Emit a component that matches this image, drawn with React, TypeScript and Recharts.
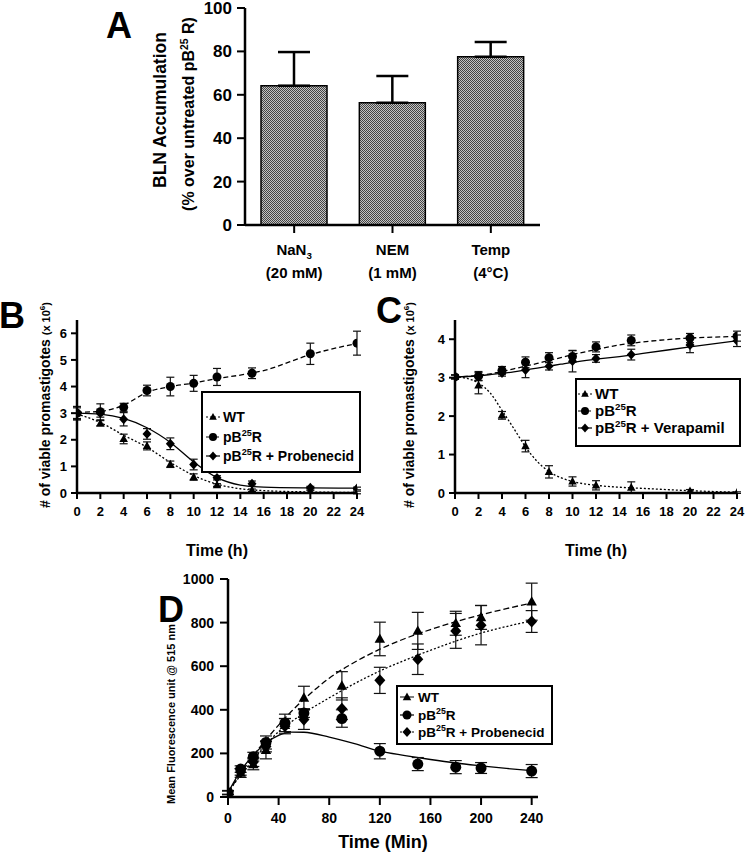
import React from 'react';
import { BarChart, Bar, XAxis, YAxis, ErrorBar, ComposedChart, Line, Scatter, Label } from 'recharts';

const FONT = '"Liberation Sans", Arial, Helvetica, sans-serif';

// ---------- Panel A ----------
const aCategories = ['NaN3', 'NEM', 'Temp'];
const aTickMain = ['NaN_3', 'NEM', 'Temp'];
const aTickSecond = ['(20 mM)', '(1 mM)', '(4°C)'];
const aValues = [64.2, 56.3, 77.5];
const aUpperErr = [15.5, 12.4, 6.8];
const aYTicks = [0, 20, 40, 60, 80, 100];

// ---------- Panel B ----------
const bTimes = [0, 2, 4, 6, 8, 10, 12, 15, 20, 24];
const bWT = [3.0, 2.62, 2.03, 1.77, 1.08, 0.6, 0.3, 0.1, 0.05, 0.02];
const bWTErr = [0.25, 0.1, 0.18, 0.15, 0.12, 0.12, 0.05, 0.05, 0.05, 0.05];
const bPB = [3.0, 3.05, 3.22, 3.85, 4.0, 4.12, 4.36, 4.5, 5.23, 5.63];
const bPBErr = [0.25, 0.3, 0.15, 0.2, 0.35, 0.3, 0.32, 0.2, 0.4, 0.45];
const bProb = [3.0, 3.0, 2.77, 2.22, 1.85, 1.07, 0.57, 0.35, 0.2, 0.17];
const bProbErr = [0.2, 0.15, 0.25, 0.2, 0.22, 0.2, 0.08, 0.1, 0.05, 0.05];
const bFitTimes = [0, 2, 4, 6, 8, 10, 12, 14, 16, 20, 24];
const bFitWT = [2.97, 2.65, 2.17, 1.72, 1.15, 0.66, 0.33, 0.16, 0.09, 0.04, 0.02];
const bFitPB = [3.03, 3.07, 3.3, 3.78, 4.0, 4.13, 4.3, 4.43, 4.6, 5.2, 5.62];
const bFitProb = [3.0, 2.96, 2.8, 2.45, 1.9, 1.17, 0.58, 0.3, 0.22, 0.19, 0.18];
const bXTicks = [0, 2, 4, 6, 8, 10, 12, 14, 16, 18, 20, 22, 24];
const bYTicks = [0, 1, 2, 3, 4, 5, 6];
const bNames = ['WT', 'pB^25R', 'pB^25R + Probenecid'];

// ---------- Panel C ----------
const cTimes = [0, 2, 4, 6, 8, 10, 12, 15, 20, 24];
const cWT = [3.02, 2.8, 2.02, 1.22, 0.55, 0.3, 0.2, 0.14, 0.05, 0.01];
const cWTErr = [0.05, 0.22, 0.1, 0.15, 0.16, 0.12, 0.12, 0.15, 0.04, 0.02];
const cPB = [3.02, 3.04, 3.19, 3.4, 3.52, 3.55, 3.8, 3.97, 4.03, 4.08];
const cPBErr = [0.05, 0.12, 0.1, 0.14, 0.13, 0.15, 0.13, 0.14, 0.12, 0.13];
const cVera = [3.02, 3.03, 3.12, 3.2, 3.3, 3.43, 3.5, 3.6, 3.85, 3.96];
const cVeraErr = [0.05, 0.1, 0.08, 0.2, 0.1, 0.28, 0.1, 0.14, 0.2, 0.15];
const cFitTimes = [0, 1, 2, 3, 4, 5, 6, 7, 8, 9, 10, 12, 14, 16, 20, 24];
const cFitWT = [3.02, 2.98, 2.86, 2.6, 2.15, 1.68, 1.2, 0.82, 0.56, 0.4, 0.3, 0.2, 0.15, 0.12, 0.06, 0.02];
const cFitPB = [3.02, 3.03, 3.06, 3.1, 3.16, 3.23, 3.3, 3.37, 3.45, 3.52, 3.6, 3.73, 3.85, 3.93, 4.03, 4.07];
const cFitVera = [3.02, 3.03, 3.05, 3.08, 3.11, 3.15, 3.2, 3.25, 3.3, 3.35, 3.4, 3.48, 3.55, 3.63, 3.8, 3.96];
const cYTicks = [0, 1, 2, 3, 4];
const cNames = ['WT', 'pB^25R', 'pB^25R + Verapamil'];

// ---------- Panel D ----------
const dTimes = [0, 10, 20, 30, 45, 60, 90, 120, 150, 180, 200, 240];
const dWT = [20, 110, 150, 215, 330, 455, 510, 725, 762, 797, 824, 896];
const dWTErr = [10, 20, 25, 40, 30, 53, 65, 77, 85, 55, 55, 85];
const dPB = [20, 128, 185, 250, 340, 385, 360, 210, 151, 137, 133, 119];
const dPBErr = [8, 15, 20, 30, 40, 20, 40, 35, 30, 30, 25, 30];
const dProb = [20, 115, 160, 232, 325, 355, 405, 535, 632, 762, 788, 805];
const dProbErr = [8, 15, 20, 25, 35, 45, 50, 60, 70, 80, 90, 50];
const dFitTimes = [0, 10, 20, 30, 40, 50, 60, 80, 100, 120, 140, 160, 180, 200, 220, 240];
const dFitWT = [20, 108, 190, 262, 330, 392, 448, 545, 618, 678, 727, 768, 804, 836, 864, 890];
const dFitPB = [20, 120, 192, 248, 283, 298, 297, 275, 245, 210, 190, 172, 156, 143, 131, 121];
const dFitProb = [20, 100, 170, 240, 300, 345, 385, 455, 520, 578, 628, 673, 715, 752, 782, 808];
const dXTicks = [0, 40, 80, 120, 160, 200, 240];
const dYTicks = [0, 200, 400, 600, 800, 1000];
const dNames = ['WT', 'pB^25R', 'pB^25R + Probenecid'];

// ---------- helpers ----------
const pts = (ts: number[], vs: number[], es: number[]) => ts.map((t, i) => ({ t, v: vs[i], e: es[i] }));
const fit = (ts: number[], vs: number[]) => ts.map((t, i) => ({ t, v: vs[i] }));

function rich(str: string, fs: number) {
  const parts = str.split(/(\^\d+|_\d+)/).filter((p) => p.length > 0);
  let cur = 0;
  return parts.map((p, i) => {
    let target = 0;
    let size = fs;
    let txt = p;
    if (p[0] === '^') { target = -fs * 0.4; size = fs * 0.65; txt = p.slice(1); }
    else if (p[0] === '_') { target = fs * 0.28; size = fs * 0.65; txt = p.slice(1); }
    const dy = target - cur;
    cur = target;
    return <tspan key={i} dy={dy} fontSize={size}>{txt}</tspan>;
  });
}

type Kind = 'tri' | 'circ' | 'dia';
function marker(kind: Kind, cx: number, cy: number, s: number, key?: string) {
  if (kind === 'circ') return <circle key={key} cx={cx} cy={cy} r={s} fill="#000" />;
  if (kind === 'dia') return <path key={key} d={`M${cx},${cy - s * 1.1}L${cx + s},${cy}L${cx},${cy + s * 1.1}L${cx - s},${cy}Z`} fill="#000" />;
  return <path key={key} d={`M${cx},${cy - s}L${cx + s * 0.95},${cy + s * 0.7}L${cx - s * 0.95},${cy + s * 0.7}Z`} fill="#000" />;
}
const shape = (kind: Kind, s: number) => (p: any) => {
  const { cx, cy } = p;
  if (cx == null || cy == null || isNaN(cx) || isNaN(cy)) return <g />;
  return marker(kind, cx, cy, s);
};

const axisLine = { stroke: '#000', strokeWidth: 2.5 };
const tickLine = { stroke: '#000', strokeWidth: 2 };
const tickStyle = (fs: number) => ({ fill: '#000', fontSize: fs, fontWeight: 700, fontFamily: FONT });

// ---------- Panel A ----------
const aData = aCategories.map((name, i) => ({ name, v: aValues[i], err: [0, aUpperErr[i]] }));

function ATick(props: any) {
  const { x, y, payload } = props;
  const i = aCategories.indexOf(payload.value);
  return (
    <g>
      <text x={x} y={y + 20} textAnchor="middle" fontSize={15} fontWeight={700} fontFamily={FONT} fill="#000">
        {rich(aTickMain[i], 15)}
      </text>
      <text x={x} y={y + 43} textAnchor="middle" fontSize={15} fontWeight={700} fontFamily={FONT} fill="#000">
        {aTickSecond[i]}
      </text>
    </g>
  );
}

function PanelA() {
  return (
    <BarChart width={560} height={290} data={aData} margin={{ top: 8, right: 20, left: 0, bottom: 0 }}>
      <defs>
        <pattern id="dotfill" width="2" height="2" patternUnits="userSpaceOnUse">
          <rect width="2" height="2" fill="#c4c4c4" />
          <rect width="1" height="1" fill="#444" />
          <rect x="1" y="1" width="1" height="1" fill="#444" />
        </pattern>
      </defs>
      <XAxis dataKey="name" height={65} tickSize={8} tickMargin={2} axisLine={axisLine} tickLine={tickLine} tick={<ATick />} interval={0} />
      <YAxis type="number" domain={[0, 100]} ticks={aYTicks} width={245} tickSize={8} tickMargin={5} axisLine={axisLine} tickLine={tickLine} tick={tickStyle(17)} interval={0} allowDataOverflow />
      <Bar dataKey="v" barSize={66} fill="url(#dotfill)" stroke="#000" strokeWidth={1.5} isAnimationActive={false}>
        <ErrorBar dataKey="err" width={16} stroke="#000" strokeWidth={2.5} direction="y" />
      </Bar>
    </BarChart>
  );
}

// ---------- Line panels ----------
type SeriesDef = { pts: any[]; fit: any[]; kind: Kind; dash?: string };

function TimePanel(props: {
  width: number; height: number; margin: any; yWidth: number; xHeight: number;
  xDomain: number[]; xTicks: number[]; yDomain: number[]; yTicks: number[];
  series: SeriesDef[]; ms: number; capW: number; tickFs: number; xTickMargin: number; yTickSize: number; yTickMargin: number; xTickSize: number;
  xLabel: string; xLabelFs: number; xLabelOffset: number;
}) {
  const p = props;
  return (
    <ComposedChart width={p.width} height={p.height} margin={p.margin}>
      <XAxis type="number" dataKey="t" domain={p.xDomain} ticks={p.xTicks} interval={0} allowDataOverflow height={p.xHeight}
        tickSize={p.xTickSize} tickMargin={p.xTickMargin} axisLine={axisLine} tickLine={tickLine} tick={tickStyle(p.tickFs)}>
        <Label value={p.xLabel} position="insideBottom" offset={p.xLabelOffset} fill="#000" fontSize={p.xLabelFs} fontWeight={700} fontFamily={FONT} />
      </XAxis>
      <YAxis type="number" domain={p.yDomain} ticks={p.yTicks} interval={0} allowDataOverflow width={p.yWidth}
        tickSize={p.yTickSize} tickMargin={p.yTickMargin} axisLine={axisLine} tickLine={tickLine} tick={tickStyle(p.tickFs)} />
      {p.series.map((s, i) => (
        <Line key={'l' + i} data={s.fit} dataKey="v" type="monotone" dot={false} activeDot={false} stroke="#000" strokeWidth={1.3}
          strokeDasharray={s.dash} isAnimationActive={false} legendType="none" />
      ))}
      {p.series.map((s, i) => (
        <Scatter key={'s' + i} data={s.pts} dataKey="v" shape={shape(s.kind, p.ms)} isAnimationActive={false}>
          <ErrorBar dataKey="e" direction="y" width={p.capW} stroke="#111" strokeWidth={1.2} />
        </Scatter>
      ))}
    </ComposedChart>
  );
}

// ---------- Overlay ----------
function Legend(props: { x: number; y: number; w: number; h: number; rows: number[]; names: string[]; kinds: Kind[]; dashes: (string | undefined)[]; fs: number; mx: number; tx: number; ms: number }) {
  const p = props;
  return (
    <g>
      <rect x={p.x} y={p.y} width={p.w} height={p.h} fill="#fff" stroke="#000" strokeWidth={2} />
      {p.rows.map((cy, i) => (
        <g key={i}>
          <line x1={p.mx - 7} x2={p.mx + 7} y1={cy} y2={cy} stroke="#000" strokeWidth={1.2} strokeDasharray={p.dashes[i]} />
          {marker(p.kinds[i], p.mx, cy, p.ms)}
          <text x={p.tx} y={cy + p.fs * 0.36} fontSize={p.fs} fontWeight={700} fontFamily={FONT} fill="#000">{rich(p.names[i], p.fs)}</text>
        </g>
      ))}
    </g>
  );
}

function YTitle(props: { x: number; y: number; children: any; fs: number }) {
  return (
    <text x={props.x} y={props.y} transform={`rotate(-90 ${props.x} ${props.y})`} textAnchor="middle" fontSize={props.fs} fontWeight={700} fontFamily={FONT} fill="#000">
      {props.children}
    </text>
  );
}

export default function App() {
  const bSeries: SeriesDef[] = [
    { pts: pts(bTimes, bWT, bWTErr), fit: fit(bFitTimes, bFitWT), kind: 'tri', dash: '2 2' },
    { pts: pts(bTimes, bPB, bPBErr), fit: fit(bFitTimes, bFitPB), kind: 'circ', dash: '5 3' },
    { pts: pts(bTimes, bProb, bProbErr), fit: fit(bFitTimes, bFitProb), kind: 'dia' },
  ];
  const cSeries: SeriesDef[] = [
    { pts: pts(cTimes, cWT, cWTErr), fit: fit(cFitTimes, cFitWT), kind: 'tri', dash: '2 2' },
    { pts: pts(cTimes, cPB, cPBErr), fit: fit(cFitTimes, cFitPB), kind: 'circ', dash: '5 3' },
    { pts: pts(cTimes, cVera, cVeraErr), fit: fit(cFitTimes, cFitVera), kind: 'dia' },
  ];
  const dSeries: SeriesDef[] = [
    { pts: pts(dTimes, dWT, dWTErr), fit: fit(dFitTimes, dFitWT), kind: 'tri', dash: '6 3' },
    { pts: pts(dTimes, dPB, dPBErr), fit: fit(dFitTimes, dFitPB), kind: 'circ' },
    { pts: pts(dTimes, dProb, dProbErr), fit: fit(dFitTimes, dFitProb), kind: 'dia', dash: '2 2' },
  ];
  return (
    <div style={{ position: 'absolute', left: 0, top: 0, width: 745, height: 852, background: '#fff', overflow: 'hidden' }}>
      <div style={{ position: 'absolute', left: 0, top: 0 }}>
        <PanelA />
      </div>
      <div style={{ position: 'absolute', left: 0, top: 290 }}>
        <TimePanel width={380} height={270} margin={{ top: 30, right: 23, left: 0, bottom: 0 }} yWidth={77} xHeight={67}
          xDomain={[0, 24]} xTicks={bXTicks} yDomain={[0, 6.5]} yTicks={bYTicks} series={bSeries} ms={4.5} capW={4}
          tickFs={13} xTickSize={6} xTickMargin={8} yTickSize={6} yTickMargin={4} xLabel="Time (h)" xLabelFs={16} xLabelOffset={4} />
      </div>
      <div style={{ position: 'absolute', left: 370, top: 290 }}>
        <TimePanel width={375} height={270} margin={{ top: 30, right: 8, left: 0, bottom: 0 }} yWidth={85} xHeight={67}
          xDomain={[0, 24]} xTicks={bXTicks} yDomain={[0, 4.5]} yTicks={cYTicks} series={cSeries} ms={4.5} capW={4}
          tickFs={13} xTickSize={6} xTickMargin={8} yTickSize={6} yTickMargin={4} xLabel="Time (h)" xLabelFs={16} xLabelOffset={4} />
      </div>
      <div style={{ position: 'absolute', left: 100, top: 560 }}>
        <TimePanel width={460} height={292} margin={{ top: 19, right: 22, left: 0, bottom: 0 }} yWidth={128} xHeight={55}
          xDomain={[0, 245]} xTicks={dXTicks} yDomain={[0, 1000]} yTicks={dYTicks} series={dSeries} ms={5.5} capW={6}
          tickFs={14} xTickSize={8} xTickMargin={8} yTickSize={8} yTickMargin={6} xLabel="Time (Min)" xLabelFs={18} xLabelOffset={4} />
      </div>
      <svg width={745} height={852} style={{ position: 'absolute', left: 0, top: 0, pointerEvents: 'none' }}>
        <g fontFamily={FONT} fontWeight={700} fill="#000">
          <text x={106} y={38} fontSize={36}>A</text>
          <text x={-1} y={328} fontSize={36}>B</text>
          <text x={376} y={323} fontSize={36}>C</text>
          <text x={158} y={622} fontSize={36}>D</text>
        </g>
        <YTitle x={166} y={110} fs={17.5}>BLN Accumulation</YTitle>
        <YTitle x={194} y={114} fs={16}>{rich('(% over untreated pB^25 R)', 16)}</YTitle>
        <YTitle x={50} y={405} fs={14}>
          <tspan>{'# of viable promastigotes '}</tspan>
          <tspan fontSize={11}>(x 10</tspan>
          <tspan fontSize={8} dy={-5}>6</tspan>
          <tspan fontSize={11} dy={5}>)</tspan>
        </YTitle>
        <YTitle x={414} y={405} fs={14}>
          <tspan>{'# of viable promastigotes '}</tspan>
          <tspan fontSize={11}>(x 10</tspan>
          <tspan fontSize={8} dy={-5}>6</tspan>
          <tspan fontSize={11} dy={5}>)</tspan>
        </YTitle>
        <YTitle x={175} y={714} fs={11}>Mean Fluorescence unit @ 515 nm</YTitle>
        <Legend x={202} y={392} w={158} h={80} rows={[417, 437, 456]} names={bNames} kinds={['tri', 'circ', 'dia']} dashes={['2 2', '5 3', undefined]} fs={14} mx={213} tx={223} ms={4} />
        <Legend x={576} y={379} w={164} h={67} rows={[394, 411, 428]} names={cNames} kinds={['tri', 'circ', 'dia']} dashes={['2 2', '5 3', undefined]} fs={15} mx={585} tx={595} ms={4} />
        <Legend x={397} y={686} w={155} h={58} rows={[697, 715, 732]} names={dNames} kinds={['tri', 'circ', 'dia']} dashes={['6 3', undefined, '2 2']} fs={13.5} mx={407} tx={418} ms={4.5} />
      </svg>
    </div>
  );
}
